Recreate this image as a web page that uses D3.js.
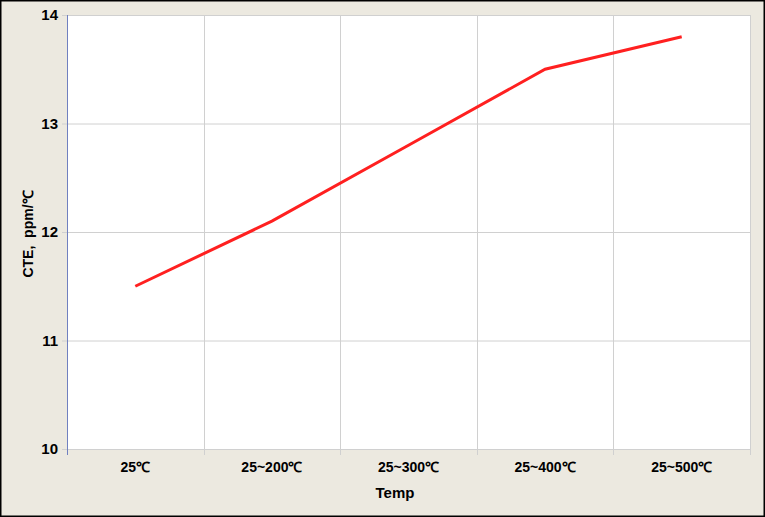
<!DOCTYPE html>
<html><head><meta charset="utf-8">
<script src="https://cdn.jsdelivr.net/npm/d3@7"></script>
<style>body{margin:0;background:#fff}svg{display:block}</style>
</head><body>
<svg id="c" width="765" height="517"></svg>
<script>
const categories = ["25℃","25~200℃","25~300℃","25~400℃","25~500℃"];
const cteValues = [11.5, 12.1, 12.8, 13.5, 13.8];
const yTicks = [10, 11, 12, 13, 14];

const W = 765, H = 517;
const m = {left: 67, right: 750, top: 15, bottom: 449};
const svg = d3.select("#c");
svg.append("rect").attr("x",0.75).attr("y",0.75).attr("width",W-1.5).attr("height",H-1.5)
  .attr("fill","#ECE9E0").attr("stroke","#000").attr("stroke-width",1.5);
svg.append("rect").attr("x",m.left).attr("y",m.top).attr("width",m.right-m.left).attr("height",m.bottom-m.top).attr("fill","#fff");

const x = d3.scaleBand().domain(categories).range([m.left, m.right]).padding(0);
const y = d3.scaleLinear().domain([10,14]).range([m.bottom, m.top]);
const font = "Arial, 'Liberation Sans', sans-serif";

// horizontal grid
svg.append("g").selectAll("line").data(yTicks).join("line")
  .attr("x1", m.left-5).attr("x2", m.right)
  .attr("y1", d=>y(d)+0.5).attr("y2", d=>y(d)+0.5)
  .attr("stroke","#d0d0d0").attr("stroke-width",1);
// vertical grid at category boundaries
const bounds = categories.map(c=>x(c)).concat([m.right]);
svg.append("g").selectAll("line").data(bounds.slice(1)).join("line")
  .attr("x1", d=>Math.round(d)+0.5).attr("x2", d=>Math.round(d)+0.5)
  .attr("y1", m.top).attr("y2", m.bottom+6)
  .attr("stroke","#d0d0d0").attr("stroke-width",1);
// y axis line
svg.append("line").attr("x1",m.left+0.5).attr("x2",m.left+0.5).attr("y1",m.top).attr("y2",m.bottom+6)
  .attr("stroke","#7080c0").attr("stroke-width",1);

// y tick labels
svg.append("g").selectAll("text").data(yTicks).join("text")
  .attr("x", m.left-9).attr("y", d=>y(d)).attr("dy","0.36em")
  .attr("text-anchor","end").attr("font-family",font).attr("font-weight","bold")
  .attr("font-size",15).attr("fill","#000").text(d=>d);
// x tick labels
svg.append("g").selectAll("text").data(categories).join("text")
  .attr("x", d=>x(d)+x.bandwidth()/2).attr("y", 472)
  .attr("text-anchor","middle").attr("font-family",font).attr("font-weight","bold")
  .attr("font-size",14).attr("fill","#000").text(d=>d);

// axis titles
svg.append("text").attr("x",395).attr("y",498).attr("text-anchor","middle")
  .attr("font-family",font).attr("font-weight","bold").attr("font-size",15).text("Temp");
svg.append("text").attr("transform","translate(33,234) rotate(-90)").attr("text-anchor","middle")
  .attr("font-family",font).attr("font-weight","bold").attr("font-size",14)
  .style("white-space","pre")
  .text("CTE,  ppm/℃");

// line
const line = d3.line().x((d,i)=>x(categories[i])+x.bandwidth()/2).y(d=>y(d));
svg.append("path").datum(cteValues).attr("d", line)
  .attr("fill","none").attr("stroke","#ff2020").attr("stroke-width",3);
</script>
</body></html>
